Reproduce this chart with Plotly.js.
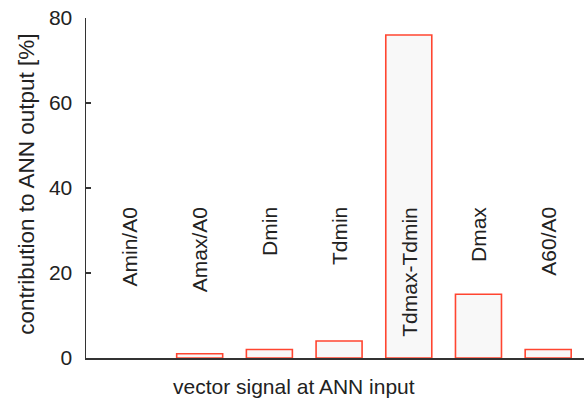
<!DOCTYPE html>
<html>
<head>
<meta charset="utf-8">
<script src="https://cdn.plot.ly/plotly-3.0.1.min.js"></script>
<style>
  html, body { margin: 0; padding: 0; background: #fff; }
  #chart { width: 584px; height: 405px; }
</style>
</head>
<body>
<div id="chart"></div>
<script>
// Input vector signals and their contribution to the network output (%)
const signals = ["Amin/A0", "Amax/A0", "Dmin", "Tdmin", "Tdmax-Tdmin", "Dmax", "A60/A0"];
const contribution = [0, 1, 2, 4, 76, 15, 2];
const yTicks = [0, 20, 40, 60, 80];
const labelLevel = 36; // height where the vertical signal names end

const positions = signals.map((_, i) => i);

const bars = {
  type: "bar",
  x: positions,
  y: contribution,
  width: 0.66,
  marker: {
    color: "#f8f8f8",
    // a zero contribution leaves no outline on the baseline
    line: { color: "#ff4530", width: contribution.map(v => (v > 0 ? 1.6 : 0)) }
  },
  hoverinfo: "skip"
};

const FONT = "Liberation Sans, Arial, sans-serif";

const nameLabels = signals.map((s, i) => ({
  text: s,
  x: positions[i],
  y: labelLevel,
  xref: "x",
  yref: "y",
  textangle: -90,
  xanchor: "center",
  yanchor: "top",
  showarrow: false,
  font: { family: FONT, size: 21, color: "#222" }
}));

const layout = {
  width: 584,
  height: 405,
  margin: { l: 86, r: 0, t: 18, b: 47 },
  paper_bgcolor: "#fff",
  plot_bgcolor: "#fff",
  showlegend: false,
  font: { family: FONT, size: 21, color: "#222" },
  xaxis: {
    range: [-0.631, 6.514],
    showline: true,
    linecolor: "#333",
    linewidth: 1.5,
    showgrid: false,
    zeroline: false,
    showticklabels: false,
    ticks: ""
  },
  yaxis: {
    range: [0, 80],
    tickvals: yTicks,
    ticktext: yTicks.map(String),
    showline: true,
    linecolor: "#333",
    linewidth: 1.5,
    showgrid: false,
    zeroline: false,
    ticks: "inside",
    ticklen: 5,
    tickwidth: 1.5,
    tickcolor: "#333",
    ticklabelstandoff: 8,
    tickfont: { family: FONT, size: 21, color: "#222" }
  },
  annotations: nameLabels.concat([
    {
      text: "vector signal at ANN input",
      xref: "paper", yref: "paper",
      x: 0.418, y: -0.085,
      xanchor: "center", yanchor: "middle",
      showarrow: false,
      font: { family: FONT, size: 21, color: "#222" }
    },
    {
      text: "contribution to ANN output [%]",
      xref: "paper", yref: "paper",
      x: -0.12, y: 0.51,
      xanchor: "center", yanchor: "middle",
      textangle: -90,
      showarrow: false,
      font: { family: FONT, size: 22.5, color: "#222" }
    }
  ])
};

Plotly.newPlot("chart", [bars], layout, { displayModeBar: false, staticPlot: true });
</script>
</body>
</html>
